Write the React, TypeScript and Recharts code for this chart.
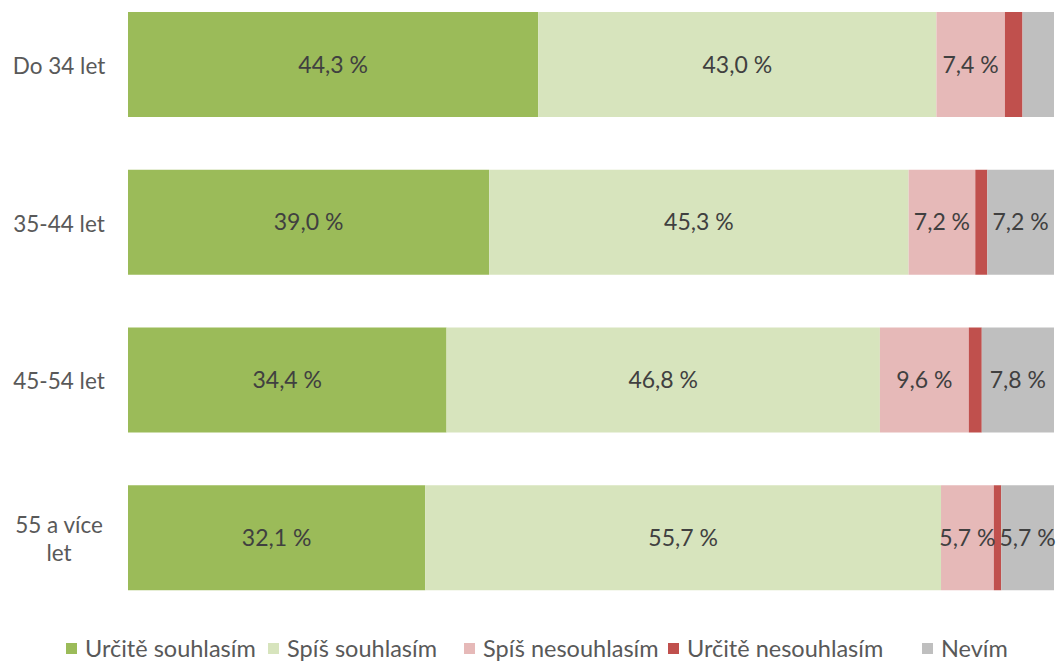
import { BarChart, Bar, XAxis, YAxis, LabelList } from "recharts";

// age groups (top to bottom)
const groups = ["Do 34 let", "35-44 let", "45-54 let", "55 a více let"];

// shares in %
const urciteSouhlasim = [44.3, 39.0, 34.4, 32.1];
const spisSouhlasim = [43.0, 45.3, 46.8, 55.7];
const spisNesouhlasim = [7.4, 7.2, 9.6, 5.7];
const urciteNesouhlasim = [1.9, 1.3, 1.4, 0.8];
const nevim = [3.4, 7.2, 7.8, 5.7];

const series = [
  { key: "a", name: "Určitě souhlasím", color: "#9BBB59", values: urciteSouhlasim },
  { key: "b", name: "Spíš souhlasím", color: "#D7E4BD", values: spisSouhlasim },
  { key: "c", name: "Spíš nesouhlasím", color: "#E6B9B8", values: spisNesouhlasim },
  { key: "d", name: "Určitě nesouhlasím", color: "#C0504D", values: urciteNesouhlasim },
  { key: "e", name: "Nevím", color: "#BFBFBF", values: nevim },
];

// legend item widths (px), so entries line up with the original spacing
const legendItemWidths = [202, 196, 204, 254, 100];

const data = groups.map((group, i) => {
  const row: Record<string, string | number> = { group };
  series.forEach((s) => (row[s.key] = s.values[i]));
  return row;
});

const FONT = "Lato, 'Open Sans', sans-serif";

function fmtPct(v: unknown) {
  const n = Number(v);
  if (n < 5) return "";
  return `${n.toFixed(1).replace(".", ",")} %`;
}

function GroupTick(props: any) {
  const { y, payload } = props;
  const label: string = payload.value;
  // Excel wraps the long label onto two lines
  const lines = label === "55 a více let" ? ["55 a více", "let"] : [label];
  const start = y - ((lines.length - 1) * 28) / 2;
  return (
    <text x={59} y={start} textAnchor="middle" dominantBaseline="central" fill="#595959" fontSize={22.5} fontFamily={FONT}>
      {lines.map((l, i) => (
        <tspan key={i} x={59} dy={i === 0 ? 0 : 28}>
          {l}
        </tspan>
      ))}
    </text>
  );
}

export default function App() {
  return (
    <div style={{ position: "absolute", left: 0, top: 0, width: 1059, height: 661, overflow: "hidden", background: "#fff" }}>
      <div style={{ position: "absolute", left: 0, top: -14 }}>
        <BarChart
          width={1059}
          height={675}
          data={data}
          layout="vertical"
          barSize={105}
          margin={{ top: 0, right: 5, left: 0, bottom: 44 }}
        >
          <XAxis type="number" domain={[0, 100]} hide />
          <YAxis
            type="category"
            dataKey="group"
            width={128}
            axisLine={false}
            tickLine={false}
            tick={<GroupTick />}
          />
          {series.map((s) => (
            <Bar key={s.key} dataKey={s.key} name={s.name} stackId="1" fill={s.color} isAnimationActive={false}>
              <LabelList
                dataKey={s.key}
                position="center"
                formatter={fmtPct}
                fill="#404040"
                fontSize={23}
                fontFamily={FONT}
              />
            </Bar>
          ))}
        </BarChart>
      </div>
      <div
        style={{
          position: "absolute",
          left: 66,
          top: 634,
          display: "flex",
          alignItems: "center",
          fontFamily: FONT,
          fontSize: 23.5,
          color: "#595959",
          whiteSpace: "nowrap",
        }}
      >
        {series.map((s, i) => (
          <div key={s.key} style={{ display: "flex", alignItems: "center", width: legendItemWidths[i] }}>
            <span style={{ display: "inline-block", width: 11, height: 11, background: s.color, marginRight: 8 }} />
            <span>{s.name}</span>
          </div>
        ))}
      </div>
    </div>
  );
}
